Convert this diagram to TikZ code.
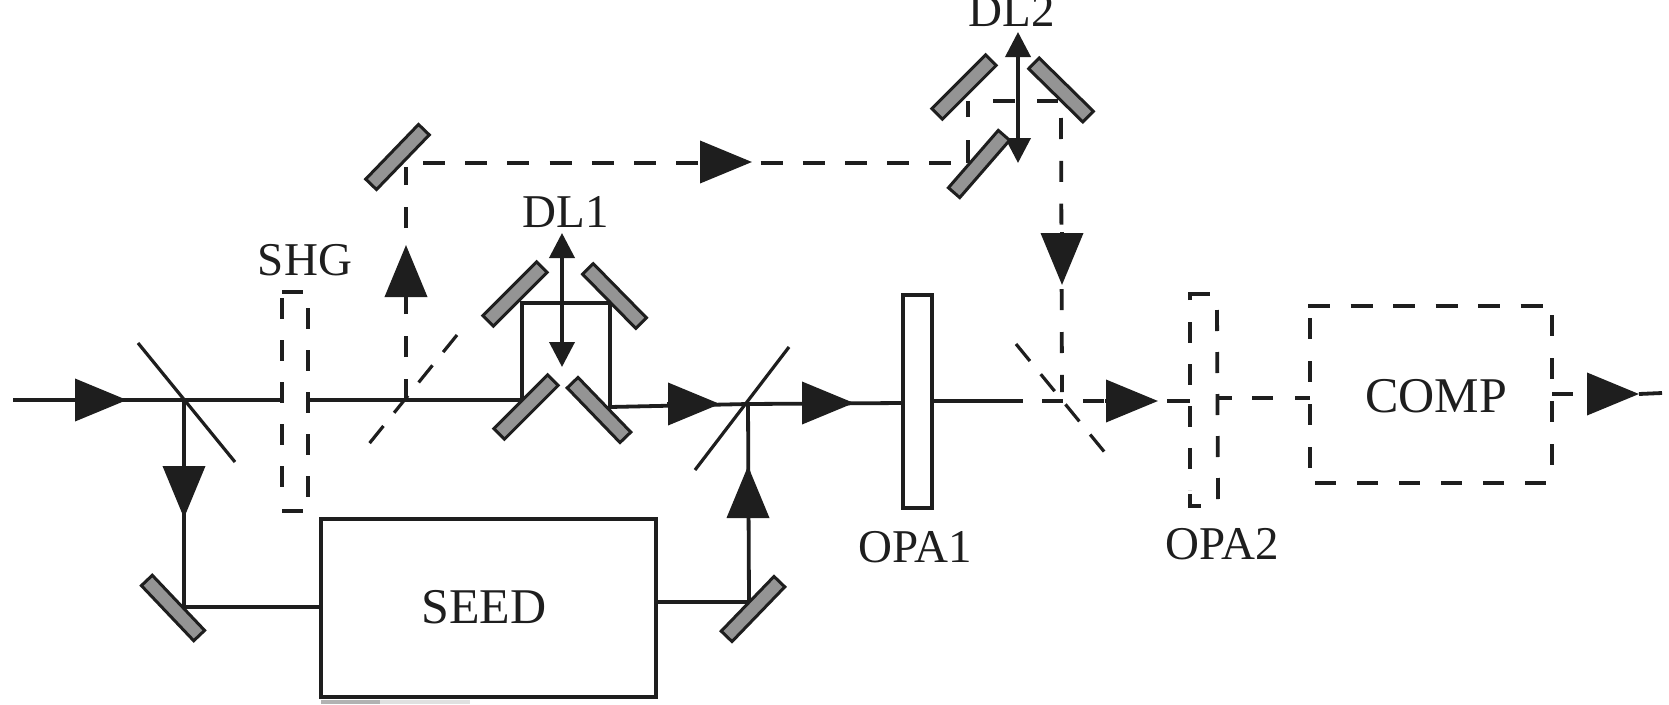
\documentclass[tikz,border=0pt]{standalone}
\usepackage{fontspec}
\setmainfont{Liberation Serif}
\usetikzlibrary{arrows.meta}
\definecolor{ink}{HTML}{1E1E1E}
\tikzset{
  x=1pt,y=-1pt,
  beam/.style={draw=ink,line width=3.8pt},
  dbeam/.style={beam,dash pattern=on 21pt off 21pt},
  thin mirror/.style={draw=ink,line width=3.2pt},
  dmirror/.style={thin mirror,dash pattern=on 22pt off 17pt},
  head/.style={draw=ink,fill=ink,line width=3.8pt,-{Triangle[length=52pt,width=42pt,fill=ink]}},
  movearrow/.style={draw=ink,line width=3.8pt,{Triangle[length=25pt,width=25pt,fill=ink]}-{Triangle[length=25pt,width=25pt,fill=ink]}},
  mirror/.style={draw=ink,fill=black!42,line width=3pt,minimum width=76pt,minimum height=15pt,inner sep=0pt,outer sep=0pt},
  label/.style={text=ink,font=\fontsize{47}{50}\selectfont,anchor=base,inner sep=0pt},
  biglabel/.style={label,font=\fontsize{50}{52}\selectfont},
  boxnode/.style={draw=ink,fill=white,line width=3.6pt,inner sep=0pt},
}
\begin{document}
\begin{tikzpicture}
\clip (0,0) rectangle (1669,704);
\fill[white] (0,0) rectangle (1669,704);
% scan smudge under the SEED box
\fill[black!30] (321,700) rectangle (380,704);
\fill[black!12] (380,700) rectangle (470,704);
% junctions
\coordinate (in) at (13,400);
\coordinate (j1) at (184,400);
\coordinate (shgL) at (282,400);
\coordinate (shgR) at (308,400);
\coordinate (j2) at (406,400);
\coordinate (cBL) at (522,400);
\coordinate (cTL) at (522,303);
\coordinate (cTR) at (610,303);
\coordinate (cBR) at (610,407);
\coordinate (j3) at (748,404);
\coordinate (mainEnd) at (1023,401);
\coordinate (m1c) at (184,607);
\coordinate (m2c) at (749,602);
\coordinate (dTL) at (968,101);
\coordinate (dBL) at (968,163);
% boxes defined first so that connectors can name them
\node[boxnode,minimum width=335pt,minimum height=178pt] (seed) at (488.5,608) {};
\node[biglabel] at (484,623) {SEED};
% lower solid beams
\draw[beam] (in) -- (shgL);
\draw[beam] (shgR) -- (cBL) -- (cTL) -- (cTR) -- (cBR) -- (j3);
\draw[beam] (j3) -- (903,403);
\draw[beam] (932,401) -- (mainEnd);
\draw[beam] (j1) -- (m1c) -- (seed.west |- m1c);
\draw[beam] (seed.east |- m2c) -- (m2c) -- (j3);
% arrowheads on solid beams
\coordinate (a1t) at (74,400);  \coordinate (a1h) at (127,400);
\coordinate (a2t) at (184,466); \coordinate (a2h) at (184,518);
\coordinate (a3t) at (748,518); \coordinate (a3h) at (748,466);
\coordinate (a4t) at (667,404); \coordinate (a4h) at (720,404);
\coordinate (a5t) at (802,403); \coordinate (a5h) at (854,403);
\foreach \p/\q in {a1t/a1h,a2t/a2h,a3t/a3h,a4t/a4h,a5t/a5h}
  \draw[head] (\p) -- (\q);
% beam splitters
\coordinate (bs1a) at (138,343); \coordinate (bs1b) at (235,462);
\coordinate (bs2a) at (457,335); \coordinate (bs2b) at (364,450);
\coordinate (bs3a) at (1016,344); \coordinate (bs3b) at (1111,460);
\coordinate (bs4a) at (695,470); \coordinate (bs4b) at (789,347);
\draw[thin mirror] (bs1a) -- (bs1b);
\draw[thin mirror] (bs4a) -- (bs4b);
\draw[dmirror] (bs2a) -- (bs2b);
\draw[dmirror] (bs3a) -- (bs3b);
% dashed pump beams
\coordinate (up) at (406,167);
\draw[beam,dash pattern=on 21pt off 22pt] (j2) -- (up);
\coordinate (a6t) at (406,298); \coordinate (a6h) at (406,245);
\draw[head] (a6t) -- (a6h);
\coordinate (hz) at (423,163);
\draw[beam,dash pattern=on 22pt off 20.2pt] (hz) -- (dBL);
\coordinate (a7t) at (700,162); \coordinate (a7h) at (752,162);
\draw[head] (a7t) -- (a7h);
\draw[beam] (dBL) -- (968,140);
\draw[beam] (968,117) -- (dTL);
\draw[beam] (993,101) -- (1015,101);
\draw[beam] (1037,101) -- (1058,101);
\coordinate (dR) at (1061,118);
\coordinate (dE) at (1062,392);
\draw[beam,dash pattern=on 21pt off 21.8pt] (dR) -- (dE);
\coordinate (a8t) at (1062,232); \coordinate (a8h) at (1062,285);
\draw[head] (a8t) -- (a8h);
\coordinate (aa) at (1042,401); \coordinate (ab) at (1105,401);
\draw[dbeam,dash pattern=on 21pt off 20pt] (aa) -- (ab);
\coordinate (a9t) at (1105,401); \coordinate (a9h) at (1158,401);
\draw[head] (a9t) -- (a9h);
\coordinate (o2L) at (1167,401); \coordinate (o2R) at (1217,398);
\draw[beam] (o2L) -- (1190,401);
\draw[beam] (o2R) -- (1232,398);
% OPA1
\node[boxnode,minimum width=29pt,minimum height=213pt] (opa1) at (917.5,401.5) {};
\node[label] at (915,562) {OPA1};
\node[label] at (1222,559) {OPA2};
% SHG dashed box
\draw[beam] (282,292) -- (303,292);
\draw[dbeam] (282,298) -- (282,500);
\draw[dbeam] (308,308) -- (308,500);
\draw[beam] (282,511) -- (303,511);
\node[label] at (305,275) {SHG};
% OPA2 dashed box
\draw[beam] (1190,300) -- (1190,294) -- (1210,294);
\draw[dbeam] (1190,322) -- (1190,490);
\draw[dbeam] (1217,310) -- (1218,500);
\draw[beam] (1190,494) -- (1190,506) -- (1201,506);
% COMP dashed box
\node[minimum width=242pt,minimum height=177pt,inner sep=0pt,outer sep=0pt] (comp) at (1431,394.5) {};
\draw[beam,dash pattern=on 22pt off 20.5pt] ([xshift=-2pt]comp.north west) -- (comp.north east);
\draw[dbeam,dash pattern=on 21pt off 22pt,dash phase=-12pt] (comp.north west) -- (comp.south west);
\draw[dbeam,dash pattern=on 21pt off 22pt,dash phase=-9pt] (comp.north east) -- (comp.south east);
\draw[beam,dash pattern=on 21pt off 21pt,dash phase=-5pt] (comp.south west) -- (comp.south east);
\node[biglabel] at (1436,412) {COMP};
\draw[beam] (1252,398) -- (1273,398);
\draw[beam] (1295,398) -- (comp.west |- 0,398);
\coordinate (outa) at (1587,394); \coordinate (outb) at (1639,394); \coordinate (oute) at (1662,393);
\draw[beam] (comp.east |- outa) -- ++(21,0);
\draw[head] (outa) -- (outb);
\draw[beam] (outb) -- (oute);
% delay arrows
\coordinate (d1t) at (562,233); \coordinate (d1b) at (562,367);
\coordinate (d2t) at (1018,32); \coordinate (d2b) at (1018,163);
\draw[movearrow] (d1t) -- (d1b);
\draw[movearrow] (d2t) -- (d2b);
% mirrors
\node[mirror,rotate=-46.5] (m1) at (173,608) {};
\node[mirror,rotate=46] (m2) at (753,609) {};
\node[mirror,rotate=46] (m3) at (397.5,157) {};
\node[mirror,rotate=45] (dl1a) at (515,294) {};
\node[mirror,rotate=-45.5] (dl1b) at (614.5,296) {};
\node[mirror,rotate=45] (dl1c) at (526,407) {};
\node[mirror,rotate=-46] (dl1d) at (599,410) {};
\node[mirror,rotate=45] (dl2a) at (964,87) {};
\node[mirror,rotate=-44.5] (dl2b) at (1061,90) {};
\node[mirror,rotate=49] (dl2c) at (979,164) {};
% delay labels
\node[label] at (566,227) {DL1};
\node[label] at (1012,27) {DL2};
\end{tikzpicture}
\end{document}
